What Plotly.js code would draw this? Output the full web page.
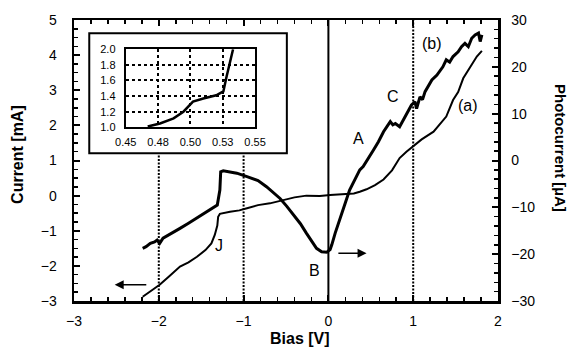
<!DOCTYPE html>
<html>
<head>
<meta charset="utf-8">
<script src="https://cdn.plot.ly/plotly-3.0.1.min.js"></script>
<style>html,body{margin:0;padding:0;background:#fff;}#chart{width:571px;height:347px;}</style>
</head>
<body>
<div id="chart"></div>
<script>
// ---- Data ----
// Curve (a): current [mA], left axis
const biasA = [-2.19,-2.10,-1.99,-1.88,-1.75,-1.65,-1.55,-1.45,-1.38,-1.34,-1.31,-1.30,-1.28,-1.16,-1.05,-0.96,-0.83,-0.69,-0.53,-0.40,-0.26,-0.10,0.02,0.18,0.30,0.37,0.45,0.55,0.65,0.75,0.84,0.92,1.00,1.10,1.24,1.32,1.39,1.47,1.53,1.59,1.67,1.75,1.81];
const currentA = [-2.88,-2.72,-2.54,-2.30,-2.02,-1.90,-1.74,-1.55,-1.36,-1.12,-0.85,-0.60,-0.52,-0.46,-0.42,-0.36,-0.27,-0.22,-0.12,-0.05,0.00,-0.01,0.02,0.04,0.06,0.11,0.18,0.30,0.46,0.72,1.07,1.25,1.41,1.60,1.82,2.05,2.25,2.72,2.95,3.34,3.67,3.96,4.12];
// Curve (b): photocurrent [µA], right axis
const biasB = [-2.19,-2.15,-2.10,-2.05,-2.02,-1.99,-1.95,-1.85,-1.75,-1.65,-1.55,-1.45,-1.38,-1.31,-1.28,-1.27,-1.24,-1.15,-1.08,-0.96,-0.83,-0.73,-0.65,-0.57,-0.49,-0.41,-0.33,-0.26,-0.20,-0.14,-0.08,-0.02,0.02,0.04,0.08,0.14,0.20,0.25,0.31,0.37,0.41,0.47,0.53,0.59,0.65,0.70,0.73,0.76,0.79,0.84,0.88,0.92,0.98,1.02,1.04,1.08,1.11,1.14,1.18,1.22,1.28,1.35,1.39,1.43,1.47,1.53,1.57,1.61,1.65,1.69,1.73,1.77,1.79,1.81];
const photoB = [-18.75,-18.4,-17.7,-17.4,-17.0,-17.7,-16.6,-15.6,-14.5,-13.4,-12.3,-11.2,-10.4,-9.5,-6.3,-2.4,-2.2,-2.4,-2.7,-3.45,-4.3,-5.6,-6.8,-8.1,-9.8,-11.6,-13.5,-15.5,-17.2,-18.75,-19.5,-19.6,-19.0,-18.0,-15.5,-12.0,-9.0,-6.3,-4.0,-2.0,-1.3,0.6,2.2,4.0,6.15,7.5,8.3,7.6,7.9,7.2,8.6,9.7,11.85,12.55,11.1,13.6,13.0,14.7,16.1,17.2,18.25,20.0,21.5,21.0,22.2,23.2,24.3,25.0,24.3,26.1,26.8,27.2,25.4,26.8];
// Inset curve
const insetBias = [0.467,0.4765,0.487,0.4946,0.502,0.510,0.520,0.5255,0.528,0.5307,0.533];
const insetCurrent = [1.01,1.05,1.115,1.20,1.33,1.37,1.41,1.46,1.65,1.84,2.0];
// Tick labels
const xTicks = [-3,-2,-1,0,1,2];
const yLeftTicks = [-3,-2,-1,0,1,2,3,4,5];
const yRightTicks = [-30,-20,-10,0,10,20,30];
const insetXTicks = [0.45,0.475,0.50,0.525,0.55];
const insetXLabels = ['0.45','0.48','0.50','0.53','0.55'];
const insetYTicks = [1.0,1.2,1.4,1.6,1.8,2.0];
const insetYLabels = ['1.0','1.2','1.4','1.6','1.8','2.0'];
// Reference bias lines
const dottedBias = [-2,-1,1];
const solidBias = [0];
// Curve labels
const labelText = ['A','C','(b)','(a)','B','J'];
const labelBias = [0.35,0.76,1.22,1.65,-0.16,-1.29];
const labelCurrent = [1.64,2.81,4.34,2.58,-2.12,-1.43];

const FONT = 'Liberation Sans, Arial, Helvetica, sans-serif';

const traces = [
  {x: biasA, y: currentA, xaxis:'x', yaxis:'y', mode:'lines', line:{color:'#000', width:2}, hoverinfo:'skip'},
  {x: biasB, y: photoB, xaxis:'x', yaxis:'y2', mode:'lines', line:{color:'#000', width:3}, hoverinfo:'skip'},
  {x: insetBias, y: insetCurrent, xaxis:'x2', yaxis:'y3', mode:'lines', line:{color:'#000', width:2.5}, hoverinfo:'skip'}
];

const inset = {x0:0.036, x1:0.502, y0:0.526, y1:0.953};

const shapes = [];
dottedBias.forEach(function(b){
  const full = b > 0;
  shapes.push({type:'line', xref:'x', yref:'paper', x0:b, x1:b, y0:0, y1: full ? 1 : inset.y0,
    line:{color:'#000', width:2, dash:'2px,1.5px'}, layer:'below'});
});
solidBias.forEach(function(b){
  shapes.push({type:'line', xref:'x', yref:'paper', x0:b, x1:b, y0:0, y1:1,
    line:{color:'#000', width:2}, layer:'below'});
});
shapes.push({type:'rect', xref:'paper', yref:'paper', x0:inset.x0, x1:inset.x1, y0:inset.y0, y1:inset.y1,
  line:{color:'#000', width:2}, fillcolor:'#fff', layer:'below'});

const annotations = [];
labelText.forEach(function(t,i){
  annotations.push({x: labelBias[i], y: labelCurrent[i], xref:'x', yref:'y', text:t, showarrow:false,
    xanchor:'center', yanchor:'middle', font:{family:FONT, size:16, color:'#000'}});
});
// arrows indicating axes
annotations.push({x:-2.52, y:-2.54, ax:-2.13, ay:-2.54, xref:'x', yref:'y', axref:'x', ayref:'y', text:'',
  showarrow:true, arrowhead:2, arrowsize:1.2, arrowwidth:1.5, arrowcolor:'#000'});
annotations.push({x:0.45, y:-1.64, ax:0.10, ay:-1.64, xref:'x', yref:'y', axref:'x', ayref:'y', text:'',
  showarrow:true, arrowhead:2, arrowsize:1.2, arrowwidth:1.5, arrowcolor:'#000'});
// axis titles
annotations.push({x:-0.132, y:0.52, xref:'paper', yref:'paper', text:'<b>Current [mA]</b>', textangle:-90,
  xanchor:'center', yanchor:'middle', showarrow:false, font:{family:FONT, size:16, color:'#000'}});
annotations.push({x:1.149, y:0.544, xref:'paper', yref:'paper', text:'<b>Photocurrent [µA]</b>', textangle:90,
  xanchor:'center', yanchor:'middle', showarrow:false, font:{family:FONT, size:15, color:'#000'}});
annotations.push({x:0.533, y:-0.132, xref:'paper', yref:'paper', text:'<b>Bias [V]</b>',
  xanchor:'center', yanchor:'middle', showarrow:false, font:{family:FONT, size:16, color:'#000'}});

const mainAxis = {
  showline:true, linecolor:'#000', linewidth:2.5, ticks:'inside', ticklen:6, tickwidth:2, tickcolor:'#000',
  showgrid:false, zeroline:false, tickfont:{family:FONT, size:14, color:'#000'}
};

const layout = {
  width:571, height:347,
  margin:{l:74, r:73, t:20, b:46, pad:0},
  paper_bgcolor:'#fff', plot_bgcolor:'#fff',
  showlegend:false,
  font:{family:FONT, color:'#000'},
  xaxis: Object.assign({}, mainAxis, {domain:[0,1], range:[-3,2], tickvals:xTicks, mirror:'ticks',
    ticklabelstandoff:6, minor:{dtick:0.2, ticks:'inside', ticklen:4, tickwidth:1.5, tickcolor:'#000', showgrid:false}}),
  yaxis: Object.assign({}, mainAxis, {range:[-3,5], tickvals:yLeftTicks, mirror:false, ticklabelstandoff:12,
    minor:{dtick:0.25, ticks:'inside', ticklen:4, tickwidth:1.5, tickcolor:'#000', showgrid:false}}),
  yaxis2: Object.assign({}, mainAxis, {range:[-30,30], tickvals:yRightTicks, overlaying:'y', side:'right', anchor:'x',
    ticklabelstandoff:8, minor:{dtick:2, ticks:'inside', ticklen:4, tickwidth:1.5, tickcolor:'#000', showgrid:false}}),
  xaxis2: {domain:[0.122,0.427], anchor:'y3', range:[0.45,0.55], tickvals:insetXTicks, ticktext:insetXLabels,
    showline:true, mirror:true, linecolor:'#000', linewidth:2, ticks:'', showgrid:true, gridcolor:'#000',
    gridwidth:2, griddash:'dot', zeroline:false, tickfont:{family:FONT, size:11, color:'#000'}, ticklabelstandoff:3},
  yaxis3: {domain:[0.618,0.896], anchor:'x2', range:[1,2], tickvals:insetYTicks, ticktext:insetYLabels,
    showline:true, mirror:true, linecolor:'#000', linewidth:2, ticks:'', showgrid:true, gridcolor:'#000',
    gridwidth:2, griddash:'dot', zeroline:false, tickfont:{family:FONT, size:11, color:'#000'}, ticklabelstandoff:6},
  shapes: shapes,
  annotations: annotations
};

Plotly.newPlot('chart', traces, layout, {staticPlot:true, displayModeBar:false});
</script>
</body>
</html>
